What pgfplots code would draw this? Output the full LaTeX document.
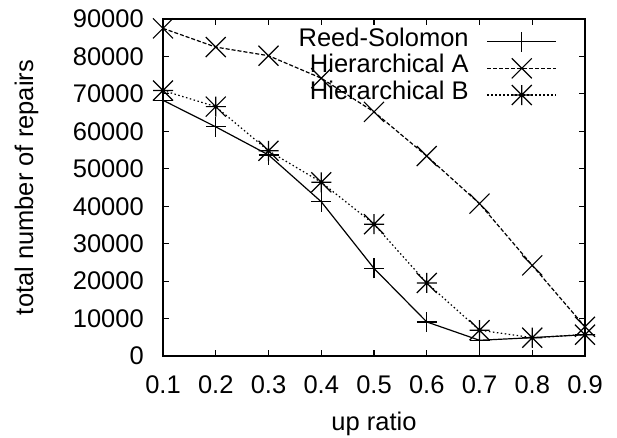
\documentclass[border=0pt]{standalone}
\usepackage{fontspec}
\setmainfont{Liberation Sans}
\usepackage{pgfplots}
\pgfplotsset{compat=1.18}
\pgfdeclareplotmark{gpplus}{%
  \pgfpathmoveto{\pgfqpoint{-\pgfplotmarksize}{0pt}}\pgfpathlineto{\pgfqpoint{\pgfplotmarksize}{0pt}}%
  \pgfpathmoveto{\pgfqpoint{0pt}{-\pgfplotmarksize}}\pgfpathlineto{\pgfqpoint{0pt}{\pgfplotmarksize}}%
  \pgfusepathqstroke}
\pgfdeclareplotmark{gpcross}{%
  \pgfpathmoveto{\pgfqpoint{-\pgfplotmarksize}{-\pgfplotmarksize}}\pgfpathlineto{\pgfqpoint{\pgfplotmarksize}{\pgfplotmarksize}}%
  \pgfpathmoveto{\pgfqpoint{-\pgfplotmarksize}{\pgfplotmarksize}}\pgfpathlineto{\pgfqpoint{\pgfplotmarksize}{-\pgfplotmarksize}}%
  \pgfusepathqstroke}
\pgfdeclareplotmark{gpstar}{%
  \pgfpathmoveto{\pgfqpoint{-\pgfplotmarksize}{0pt}}\pgfpathlineto{\pgfqpoint{\pgfplotmarksize}{0pt}}%
  \pgfpathmoveto{\pgfqpoint{0pt}{-\pgfplotmarksize}}\pgfpathlineto{\pgfqpoint{0pt}{\pgfplotmarksize}}%
  \pgfpathmoveto{\pgfqpoint{-\pgfplotmarksize}{-\pgfplotmarksize}}\pgfpathlineto{\pgfqpoint{\pgfplotmarksize}{\pgfplotmarksize}}%
  \pgfpathmoveto{\pgfqpoint{-\pgfplotmarksize}{\pgfplotmarksize}}\pgfpathlineto{\pgfqpoint{\pgfplotmarksize}{-\pgfplotmarksize}}%
  \pgfusepathqstroke}
\begin{document}
\fontsize{25.5pt}{30pt}\selectfont
\begin{tikzpicture}
\path[use as bounding box] (0pt,0pt) rectangle (617pt,437pt);
\begin{axis}[
  at={(163pt,81pt)}, anchor=south west,
  scale only axis, width=422pt, height=337pt,
  xmin=0.1, xmax=0.9, ymin=0, ymax=90000,
  clip=false,
  axis line style={line width=1.2pt},
  tick style={line width=1.2pt, black},
  tick align=inside, major tick length=6pt,
  xtick={0.1,0.2,0.3,0.4,0.5,0.6,0.7,0.8,0.9},
  xticklabels={0.1,0.2,0.3,0.4,0.5,0.6,0.7,0.8,0.9},
  ytick={0,10000,20000,30000,40000,50000,60000,70000,80000,90000},
  yticklabels={0,10000,20000,30000,40000,50000,60000,70000,80000,90000},
  scaled ticks=false,
  /pgf/number format/assume math mode=true,
  xticklabel style={anchor=north, inner sep=0pt, yshift=-19pt},
  yticklabel style={anchor=east, inner sep=0pt, xshift=-19pt},
  xlabel={up ratio},
  ylabel={total number of repairs},
  xlabel style={at={(axis description cs:0.5,-0.2196)}, anchor=base, inner sep=0pt},
  ylabel style={at={(axis description cs:-0.308,0.5)}, anchor=base, inner sep=0pt},
  legend plot pos=right,
  legend cell align=right,
  legend style={draw=none, fill=none, at={(axis description cs:0.941,0.979)}, anchor=north east,
    column sep=18pt, row sep=0pt,
    nodes={inner sep=0pt, text height=18pt, text depth=8.7pt}},
  legend image code/.code={%
    \draw[mark repeat=2,mark phase=2,#1] plot coordinates {(0pt,0pt) (34.5pt,0pt) (69pt,0pt)};},
  every axis plot/.append style={line width=1.2pt, black, mark size=10pt, mark options={solid}},
]
\addplot[mark=gpplus] coordinates {
  (0.1,68300) (0.2,61200) (0.3,53700) (0.4,41200) (0.5,23400)
  (0.6,9100) (0.7,4200) (0.8,4900) (0.9,5700)};
\addlegendentry{Reed-Solomon}
\addplot[mark=gpcross, dash pattern=on 4pt off 2pt] coordinates {
  (0.1,87500) (0.2,82500) (0.3,80200) (0.4,74200) (0.5,65200)
  (0.6,53400) (0.7,40700) (0.8,24200) (0.9,7800)};
\addlegendentry{Hierarchical A}
\addplot[mark=gpstar, dash pattern=on 1.5pt off 2.5pt] coordinates {
  (0.1,70900) (0.2,66600) (0.3,54800) (0.4,46400) (0.5,35200)
  (0.6,19500) (0.7,6900) (0.8,4900) (0.9,5700)};
\addlegendentry{Hierarchical B}
\end{axis}
\end{tikzpicture}
\end{document}
